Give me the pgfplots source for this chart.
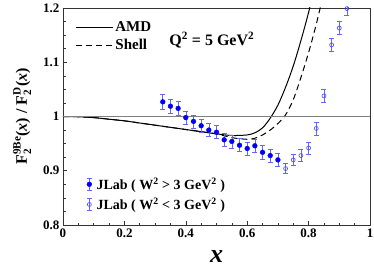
\documentclass[border=0pt]{standalone}
\usepackage{amsmath}
\usepackage{fontspec}
\setmainfont{Liberation Serif}
\usepackage{pgfplots}
\pgfplotsset{compat=1.18}
\definecolor{errblue}{RGB}{100,100,255}
\definecolor{openblue}{RGB}{70,70,255}
\pgfplotsset{
  common/.style={
    scale only axis, width=307pt, height=217pt,
    xmin=0, xmax=1, ymin=0.8, ymax=1.2,
  }
}
\begin{document}
\begin{tikzpicture}
\begin{axis}[common, name=ax,
  xtick={0,0.2,0.4,0.6,0.8,1}, ytick={0.8,0.9,1,1.1,1.2},
  minor x tick num=3, minor y tick num=3,
  tick align=inside, tick pos=left,
  major tick length=4pt, minor tick length=2.5pt,
  axis line style={black!80, line width=0.8pt},
  every tick/.style={black!80, line width=0.6pt},
  tick label style={font=\fontsize{13}{13}\selectfont\bfseries},
  /pgf/number format/assume math mode=true,
  xlabel={\fontsize{26}{26}\selectfont\bfseries\itshape x},
  xlabel style={at={(axis description cs:0.5,-0.147)}, anchor=center},
  ylabel={\fontsize{16}{16}\selectfont\bfseries F$_{\text{2}}^{\text{9Be}}$(\textit{x}) / F$_{\text{2}}^{\text{D}}$(\textit{x})},
  ylabel style={at={(axis description cs:-0.133,0.5)}, anchor=center},
  legend style={at={(axis cs:0.03,1.182)}, anchor=north west, draw=none, fill=none,
    font=\fontsize{15}{15}\selectfont\bfseries, row sep=2pt},
  legend cell align=left,
  legend image code/.code={\draw[#1] (0pt,0pt) -- (37pt,0pt);},
]
\addplot[black, line width=1pt, smooth, tension=0.5] coordinates {
 (0,1.0) (0.05,0.9995) (0.1,0.998) (0.15,0.995) (0.2,0.992) (0.25,0.988)
 (0.3,0.984) (0.35,0.980) (0.4,0.976) (0.45,0.972) (0.5,0.968) (0.55,0.965)
 (0.6,0.966) (0.625,0.970) (0.65,0.979) (0.675,0.997) (0.7,1.021) (0.725,1.054)
 (0.75,1.093) (0.775,1.140) (0.8,1.192) (0.82,1.24)
};
\addlegendentry{AMD}
\addplot[black, line width=1pt, dash pattern=on 6pt off 4pt, smooth, tension=0.5] coordinates {
 (0,1.0) (0.05,0.9995) (0.1,0.998) (0.15,0.995) (0.2,0.992) (0.25,0.988)
 (0.3,0.984) (0.35,0.980) (0.4,0.976) (0.45,0.972) (0.5,0.968) (0.55,0.961)
 (0.6,0.958) (0.625,0.960) (0.65,0.966) (0.675,0.975) (0.7,0.987) (0.725,1.003)
 (0.75,1.031) (0.775,1.072) (0.8,1.118) (0.825,1.170) (0.85,1.23)
};
\addlegendentry{Shell}
\addplot[gray, line width=0.8pt, forget plot] coordinates {(0,1) (1,1)};
\node[anchor=west, font=\fontsize{16}{16}\selectfont\bfseries] at (axis cs:0.335,1.141)
  {Q$^{\text{2}}$ = 5 GeV$^{\text{2}}$};
\end{axis}
\begin{axis}[common, hide axis,
  legend style={at={(axis cs:0.065,0.895)}, anchor=north west, draw=none, fill=none,
    font=\fontsize{14}{14}\selectfont\bfseries, row sep=3pt},
  legend cell align=left,
]
\addplot[only marks, mark=*, mark size=2.4pt, blue, forget plot,
  error bars/.cd, y dir=both, y explicit,
  error bar style={errblue, line width=0.6pt},
  error mark options={rotate=90, mark size=2.5pt, errblue, line width=0.6pt},
  ] table[x=x, y=y, y error=e] {
x y e
0.325 1.027 0.013
0.350 1.019 0.013
0.375 1.015 0.013
0.400 0.998 0.012
0.425 0.991 0.012
0.450 0.983 0.012
0.475 0.975 0.012
0.500 0.971 0.012
0.525 0.957 0.012
0.550 0.954 0.012
0.575 0.947 0.012
0.600 0.941 0.012
0.625 0.946 0.012
0.650 0.934 0.012
0.675 0.928 0.012
0.700 0.920 0.012
};
\addplot[only marks, mark=o, mark size=2pt, openblue, line width=0.6pt, forget plot,
  error bars/.cd, y dir=both, y explicit,
  error bar style={errblue, line width=0.6pt},
  error mark options={rotate=90, mark size=2.5pt, errblue, line width=0.6pt},
  ] table[x=x, y=y, y error=e] {
x y e
0.725 0.904 0.009
0.750 0.920 0.010
0.775 0.928 0.011
0.800 0.942 0.011
0.825 0.978 0.012
0.850 1.038 0.012
0.875 1.132 0.012
0.900 1.163 0.012
0.925 1.199 0.012
};
\addlegendimage{legend image code/.code={%
  \path (-3pt,0pt) (5pt,0pt);
  \draw[errblue, line width=0.6pt] (0pt,-6pt)--(0pt,6pt) (-2.5pt,-6pt)--(2.5pt,-6pt) (-2.5pt,6pt)--(2.5pt,6pt);
  \draw[blue, fill=blue] (0pt,0pt) circle (2.4pt);}}
\addlegendentry{JLab ( W$^{\text{2}}$ > 3 GeV$^{\text{2}}$ )}
\addlegendimage{legend image code/.code={%
  \path (-3pt,0pt) (5pt,0pt);
  \draw[errblue, line width=0.6pt] (0pt,-6pt)--(0pt,6pt) (-2.5pt,-6pt)--(2.5pt,-6pt) (-2.5pt,6pt)--(2.5pt,6pt);
  \draw[openblue, line width=0.6pt] (0pt,0pt) circle (2pt);}}
\addlegendentry{JLab ( W$^{\text{2}}$ < 3 GeV$^{\text{2}}$ )}
\end{axis}
\pgfresetboundingbox
\path[use as bounding box] ([shift={(-63pt,-45pt)}]ax.south west) rectangle ([shift={(4pt,8pt)}]ax.north east);
\end{tikzpicture}
\end{document}
